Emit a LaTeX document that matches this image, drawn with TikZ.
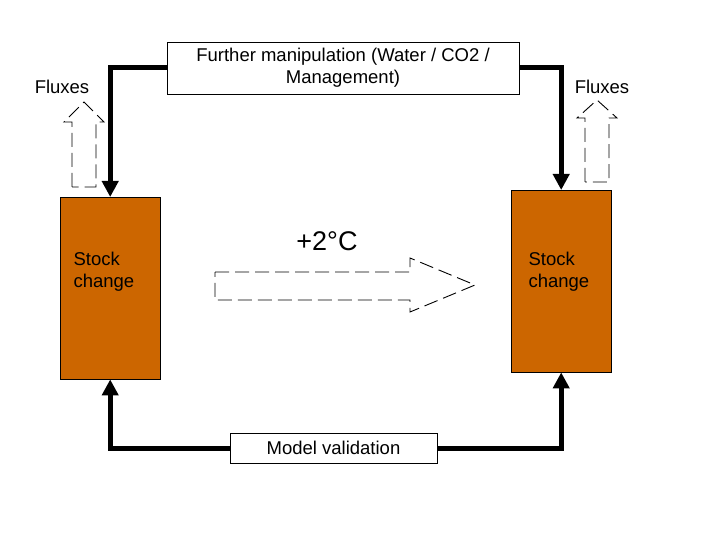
\documentclass[tikz,border=0pt]{standalone}
\usepackage{fontspec}
\setmainfont{Liberation Sans}
\begin{document}
\begin{tikzpicture}[x=1pt,y=-1pt,
  stock/.style={draw=black,fill={rgb,255:red,204;green,102;blue,0},minimum width=100pt,minimum height=182pt,anchor=north west,align=left,inner sep=0pt},
  lbl/.style={draw=black,fill=white,align=center,font=\fontsize{18.5}{22}\selectfont,inner sep=0pt},
  flow/.style={line width=5pt,-{Triangle[length=16pt,width=16pt]}},
  hollow/.style={draw=black,line width=0.9pt,dash pattern=on 14pt off 6pt,fill=white},
  txt/.style={font=\fontsize{18.5}{22}\selectfont,align=left}]
\usetikzlibrary{arrows.meta}
\useasboundingbox (0,0) rectangle (720,540);
\node[stock] (L) at (60,197) {};
\node[stock] (R) at (511,190) {};
\node[txt,anchor=west] (sl) at (70,272) {Stock\\change};
\node[txt,anchor=west] (sr) at (525,272) {Stock\\change};
\node[lbl,minimum width=352pt,minimum height=52pt] (T) at (343,68) {Further manipulation (Water / CO2 /\\Management)};
\node[lbl,minimum width=207pt,minimum height=30pt] (B) at (333.5,448) {Model validation};
\node[txt] (fl) at (62,87) {Fluxes};
\node[txt] (fr) at (602,87) {Fluxes};
\node[font=\fontsize{27}{30}\selectfont] (deg) at (327,241) {+2°C};
\draw[flow] (T.west) -| (L.north);
\draw[flow] (T.east) -| (R.north);
\draw[flow] (B.west) -| (L.south);
\draw[flow] (B.east) -| (R.south);
\draw[hollow] (72,187) -- (72,122) -- (64,122) -- (84,102) -- (104,122) -- (96,122) -- (96,187) -- cycle;
\draw[hollow] (585,182) -- (585,118) -- (577,118) -- (597,100) -- (617,118) -- (609,118) -- (609,182) -- cycle;
\draw[hollow] (215,272) -- (410,272) -- (410,258) -- (475,285) -- (410,312) -- (410,300) -- (215,300) -- cycle;
\end{tikzpicture}
\end{document}
